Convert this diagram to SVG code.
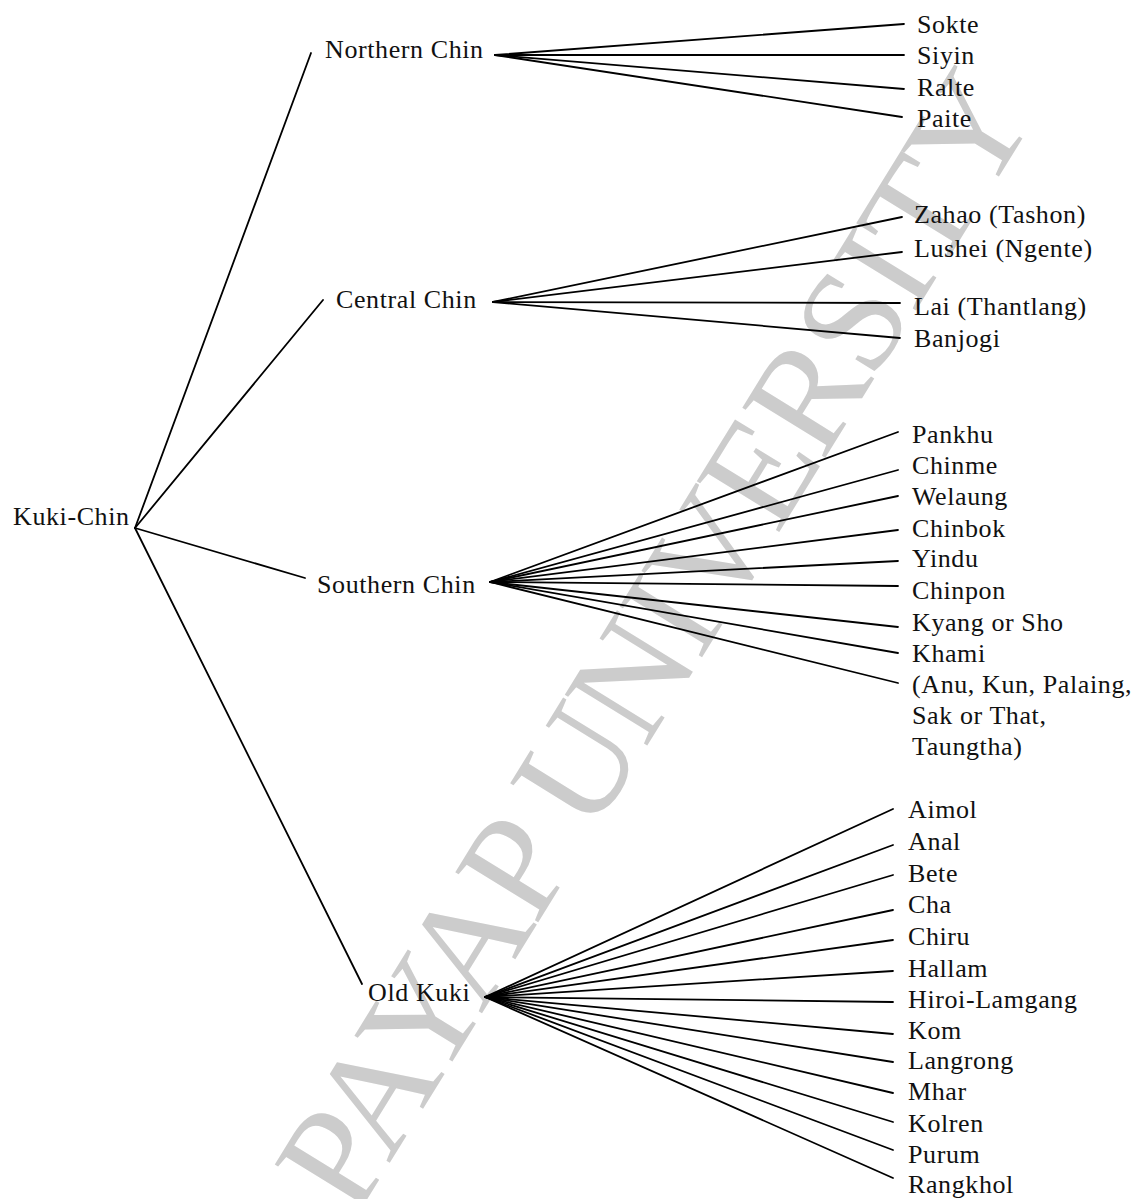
<svg xmlns="http://www.w3.org/2000/svg" width="1131" height="1199" viewBox="0 0 1131 1199">
<style>
text{font-family:"Liberation Serif","Times New Roman",serif;font-size:26px;letter-spacing:0.6px;fill:#111}
.wm{font-size:148px;fill:#cccccc;letter-spacing:-4px}
line{stroke:#000;stroke-width:1.8;stroke-linecap:round}
</style>
<rect width="1131" height="1199" fill="#fff"/>
<text class="wm" x="0" y="0" transform="translate(355 1219) rotate(-58.3)">PAYAP UNIVERSITY</text>
<g id="connectors">
<line x1="135" y1="528" x2="311" y2="53"/>
<line x1="135" y1="528" x2="323" y2="300"/>
<line x1="135" y1="528" x2="305" y2="578"/>
<line x1="135" y1="528" x2="362" y2="984"/>
<line x1="495" y1="55" x2="904" y2="24"/>
<line x1="495" y1="55" x2="904" y2="55"/>
<line x1="495" y1="55" x2="904" y2="89"/>
<line x1="495" y1="55" x2="902" y2="117"/>
<line x1="493" y1="302" x2="902" y2="217"/>
<line x1="493" y1="302" x2="902" y2="252"/>
<line x1="493" y1="302" x2="900" y2="303"/>
<line x1="493" y1="302" x2="900" y2="338"/>
<line x1="490" y1="582" x2="898" y2="432"/>
<line x1="490" y1="582" x2="898" y2="470"/>
<line x1="490" y1="582" x2="898" y2="496"/>
<line x1="490" y1="582" x2="898" y2="530"/>
<line x1="490" y1="582" x2="898" y2="561"/>
<line x1="490" y1="582" x2="898" y2="586"/>
<line x1="490" y1="582" x2="898" y2="627"/>
<line x1="490" y1="582" x2="898" y2="653"/>
<line x1="490" y1="582" x2="898" y2="683"/>
<line x1="485" y1="997" x2="893" y2="809"/>
<line x1="485" y1="997" x2="893" y2="845"/>
<line x1="485" y1="997" x2="893" y2="875"/>
<line x1="485" y1="997" x2="893" y2="910"/>
<line x1="485" y1="997" x2="893" y2="940"/>
<line x1="485" y1="997" x2="893" y2="971"/>
<line x1="485" y1="997" x2="893" y2="1002"/>
<line x1="485" y1="997" x2="893" y2="1034"/>
<line x1="485" y1="997" x2="893" y2="1062"/>
<line x1="485" y1="997" x2="893" y2="1093"/>
<line x1="485" y1="997" x2="893" y2="1122"/>
<line x1="485" y1="997" x2="893" y2="1150"/>
<line x1="485" y1="997" x2="893" y2="1178"/>
</g>
<g id="kuki-chin"><text x="13" y="525">Kuki-Chin</text></g>
<g id="northern-chin"><text x="325" y="58">Northern Chin</text></g>
<g id="central-chin"><text x="336" y="308">Central Chin</text></g>
<g id="southern-chin"><text x="317" y="593">Southern Chin</text></g>
<g id="old-kuki"><text x="368" y="1001">Old Kuki</text></g>
<g id="sokte"><text x="917" y="33">Sokte</text></g>
<g id="siyin"><text x="917" y="64">Siyin</text></g>
<g id="ralte"><text x="917" y="96">Ralte</text></g>
<g id="paite"><text x="917" y="127">Paite</text></g>
<g id="zahao"><text x="914" y="223">Zahao (Tashon)</text></g>
<g id="lushei"><text x="914" y="257">Lushei (Ngente)</text></g>
<g id="lai"><text x="914" y="315">Lai (Thantlang)</text></g>
<g id="banjogi"><text x="914" y="347">Banjogi</text></g>
<g id="pankhu"><text x="912" y="443">Pankhu</text></g>
<g id="chinme"><text x="912" y="474">Chinme</text></g>
<g id="welaung"><text x="912" y="505">Welaung</text></g>
<g id="chinbok"><text x="912" y="537">Chinbok</text></g>
<g id="yindu"><text x="912" y="567">Yindu</text></g>
<g id="chinpon"><text x="912" y="599">Chinpon</text></g>
<g id="kyang"><text x="912" y="631">Kyang or Sho</text></g>
<g id="khami"><text x="912" y="662">Khami</text></g>
<g id="anu-group"><text x="912" y="693">(Anu, Kun, Palaing,</text><text x="912" y="724">Sak or That,</text><text x="912" y="755">Taungtha)</text></g>
<g id="aimol"><text x="908" y="818">Aimol</text></g>
<g id="anal"><text x="908" y="850">Anal</text></g>
<g id="bete"><text x="908" y="882">Bete</text></g>
<g id="cha"><text x="908" y="913">Cha</text></g>
<g id="chiru"><text x="908" y="945">Chiru</text></g>
<g id="hallam"><text x="908" y="977">Hallam</text></g>
<g id="hiroi-lamgang"><text x="908" y="1008">Hiroi-Lamgang</text></g>
<g id="kom"><text x="908" y="1039">Kom</text></g>
<g id="langrong"><text x="908" y="1069">Langrong</text></g>
<g id="mhar"><text x="908" y="1100">Mhar</text></g>
<g id="kolren"><text x="908" y="1132">Kolren</text></g>
<g id="purum"><text x="908" y="1163">Purum</text></g>
<g id="rangkhol"><text x="908" y="1193">Rangkhol</text></g>
</svg>
